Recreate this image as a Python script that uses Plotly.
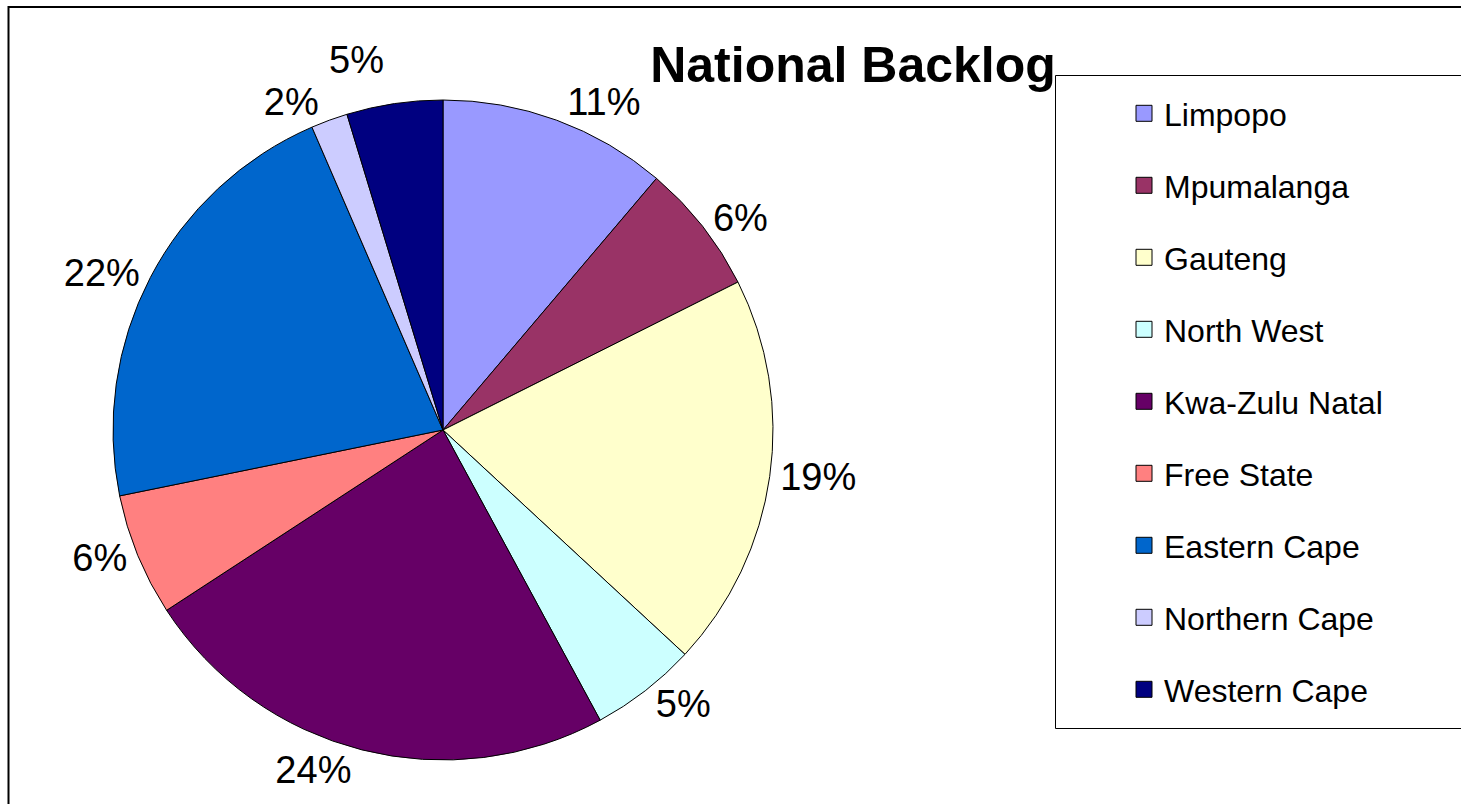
import plotly.graph_objects as go

provinces = ["Limpopo", "Mpumalanga", "Gauteng", "North West", "Kwa-Zulu Natal",
             "Free State", "Eastern Cape", "Northern Cape", "Western Cape"]
backlog_share = [11.2, 6.4, 19.3, 5.2, 23.7, 6.0, 21.7, 1.8, 4.7]
slice_colors = ["#9999FF", "#993366", "#FFFFCC", "#CCFFFF", "#660066",
                "#FF8080", "#0066CC", "#CCCCFF", "#000080"]

W, H = 1461, 804
FONT = "Arial, Liberation Sans, sans-serif"

fig = go.Figure()

cx, cy, r = 443, 430, 330
fig.add_trace(go.Pie(
    labels=provinces,
    values=backlog_share,
    sort=False,
    direction="clockwise",
    rotation=0,
    marker=dict(colors=slice_colors, line=dict(color="black", width=1)),
    texttemplate="%{percent:.0%}",
    textposition="outside",
    textfont=dict(family=FONT, size=38, color="black"),
    showlegend=False,
    domain=dict(x=[(cx - r) / W, (cx + r) / W],
                y=[1 - (cy + r) / H, 1 - (cy - r) / H]),
    hoverinfo="label+percent",
))

# legend entries (one group per province to reproduce the wide spacing)
for name, col in zip(provinces, slice_colors):
    fig.add_trace(go.Scatter(
        x=[None], y=[None], mode="markers", name=name,
        legendgroup=name,
        marker=dict(symbol="square", size=16, color=col,
                    line=dict(color="black", width=1)),
    ))

fig.update_layout(
    width=W, height=H,
    margin=dict(l=0, r=0, t=0, b=0),
    paper_bgcolor="white",
    plot_bgcolor="white",
    font=dict(family=FONT, color="black"),
    title=dict(text="<b>National Backlog</b>", x=853 / W, xanchor="center",
               y=1 - 64 / H, yanchor="middle",
               font=dict(family=FONT, size=50, color="black")),
    xaxis=dict(visible=False),
    yaxis=dict(visible=False),
    showlegend=True,
    legend=dict(
        x=1124 / W, xanchor="left",
        y=1 - 86 / H, yanchor="top",
        bgcolor="rgba(0,0,0,0)",
        borderwidth=0,
        font=dict(family=FONT, size=32, color="black"),
        tracegroupgap=27.4,
        itemclick=False, itemdoubleclick=False,
    ),
    shapes=[
        dict(type="rect", xref="paper", yref="paper",
             x0=8.5 / W, x1=1.02, y0=-0.02, y1=1 - 7 / H,
             line=dict(color="black", width=2), layer="below"),
        dict(type="rect", xref="paper", yref="paper",
             x0=1055.5 / W, x1=1.02, y0=1 - 728.5 / H, y1=1 - 75.5 / H,
             line=dict(color="black", width=1), fillcolor="white", layer="below"),
    ],
)

page_js = (
    "document.body.style.margin='0';"
    "document.body.style.overflow='hidden';"
    "var st=document.createElement('style');"
    "st.textContent='path.textline{display:none}';"
    "document.head.appendChild(st);"
)

fig.write_html(
    "out.html",
    config={"displayModeBar": False},
    post_script=page_js,
)
